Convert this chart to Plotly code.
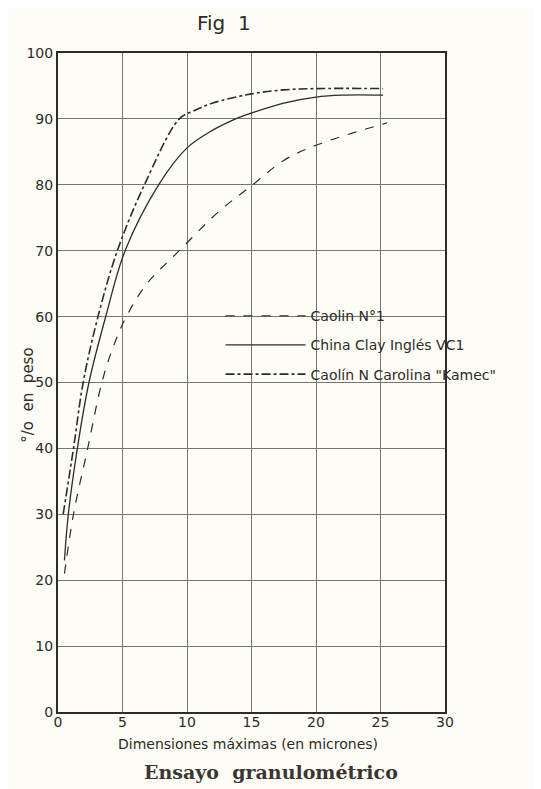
import plotly.graph_objects as go

# Caolin N°1 (dashed)
x_caolin = [0.5, 1.2, 2.3, 3.4, 4.3, 5.3, 6.9, 9.4, 12.5, 15.1, 17.5, 20, 25.5]
y_caolin = [21, 30, 40, 50, 55.5, 60, 65, 70, 76, 80, 83.7, 86, 89.4]

# China Clay Inglés VC1 (solid)
x_china = [0.5, 0.8, 1.5, 2.4, 3.7, 5.2, 7.8, 10, 12, 14.0, 15, 17.5, 20, 22, 25.2]
y_china = [23, 30, 40, 50, 60, 70, 80, 85.6, 88.3, 90.2, 90.9, 92.4, 93.3, 93.6, 93.6]

# Caolín N Carolina "Kamec" (dash-dot)
x_kamec = [0.4, 1.2, 1.95, 3.1, 4.6, 6.7, 9.4, 10.5, 12, 15, 17.5, 20, 25.2]
y_kamec = [30, 40, 50, 60, 70, 80, 90, 91.2, 92.4, 93.8, 94.4, 94.6, 94.6]

x_ticks = [0, 5, 10, 15, 20, 25, 30]
y_ticks = [0, 10, 20, 30, 40, 50, 60, 70, 80, 90, 100]

ink = "#2e2b28"
bg = "#fdfcf6"

fig = go.Figure()
fig.add_trace(go.Scatter(x=x_caolin, y=y_caolin, mode="lines", name="Caolin N°1", legendgroup="a",
                         line=dict(color=ink, width=1.2, dash="dash", shape="spline")))
fig.add_trace(go.Scatter(x=x_china, y=y_china, mode="lines", name="China Clay Inglés VC1", legendgroup="b",
                         line=dict(color=ink, width=1.3, dash="solid", shape="spline")))
fig.add_trace(go.Scatter(x=x_kamec, y=y_kamec, mode="lines", name='Caolín N Carolina "Kamec"', legendgroup="c",
                         line=dict(color=ink, width=1.6, dash="dashdot", shape="spline")))

fig.update_layout(
    width=533, height=781,
    paper_bgcolor=bg, plot_bgcolor=bg,
    margin=dict(l=50, r=96, t=45, b=77),
    font=dict(family="DejaVu Sans", color=ink, size=13),
    showlegend=True,
    legend=dict(x=0.42, y=0.625, xanchor="left", yanchor="top",
                bgcolor="rgba(0,0,0,0)", font=dict(size=14, family="DejaVu Sans"),
                tracegroupgap=8, itemwidth=80),
    annotations=[
        dict(text="Fig  1", x=0.43, y=1.0, xref="paper", yref="paper", yanchor="bottom",
             xanchor="center", yshift=16, showarrow=False, font=dict(size=20, color=ink)),
        dict(text="Dimensiones máximas (en micrones)", x=0.49, y=0, xref="paper", yref="paper",
             yanchor="top", xanchor="center", yshift=-22, showarrow=False,
             font=dict(size=14, color=ink)),
        dict(text="<b>Ensayo  granulométrico</b>", x=0.55, y=0, xref="paper", yref="paper",
             yanchor="top", xanchor="center", yshift=-47, showarrow=False,
             font=dict(size=19, color="#3a3533", family="DejaVu Serif")),
        dict(text="°/o  en  peso", x=0, y=0.48, xref="paper", yref="paper", xanchor="center",
             yanchor="middle", xshift=-30, showarrow=False, textangle=-90,
             font=dict(size=15, color=ink)),
    ],
)
fig.update_xaxes(range=[0, 30], tickvals=x_ticks, ticktext=[str(v) for v in x_ticks],
                 showgrid=True, gridcolor="#7a7570", gridwidth=1,
                 showline=True, linecolor=ink, linewidth=2, mirror=True,
                 ticks="", zeroline=False, tickfont=dict(size=14), fixedrange=True,
                 ticklabelstandoff=-4)
fig.update_yaxes(range=[0, 100], tickvals=y_ticks, ticktext=[str(v) for v in y_ticks],
                 showgrid=True, gridcolor="#7a7570", gridwidth=1,
                 showline=True, linecolor=ink, linewidth=2, mirror=True,
                 ticks="", zeroline=False, tickfont=dict(size=14), fixedrange=True)

fig.write_html("out.html")
